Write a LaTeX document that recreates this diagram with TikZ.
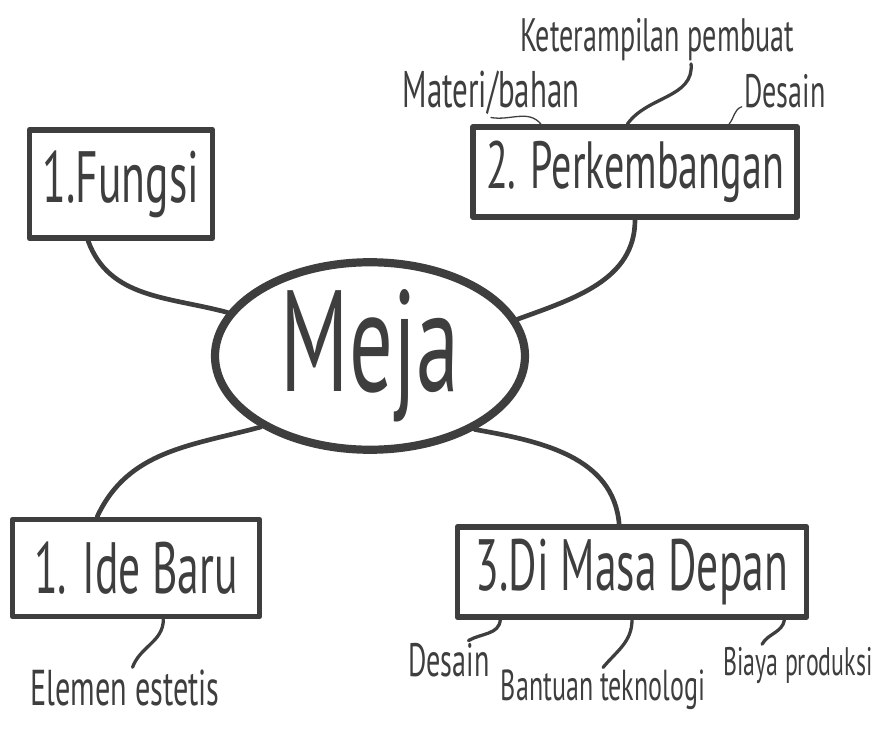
\documentclass[tikz,border=0pt]{standalone}
\usepackage{fontspec}
\usepackage{tikz}
\usetikzlibrary{arrows.meta,positioning,calc,shapes.geometric}
\newfontfamily\handfont[FakeStretch=0.6]{PT Sans}
\definecolor{ink}{HTML}{3E3E3E}

\begin{document}
\begin{tikzpicture}[
    x=0.03cm, y=-0.03cm,
    hub/.style={ellipse, draw=ink, line width=7pt, minimum width=9.3cm, minimum height=4.86cm, inner sep=0pt, text=ink, font=\handfont\fontsize{123}{130}\selectfont},
    topic/.style={draw=ink, line width=5pt, line join=round, inner sep=0pt, text=ink, font=\handfont\fontsize{62}{66}\selectfont},
    leaf/.style={inner sep=2pt, text=ink, font=\handfont\fontsize{40}{44}\selectfont},
    link/.style={draw=ink, line width=4pt, line cap=round},
    stem/.style={draw=ink, line width=2.8pt, line cap=round},
    twig/.style={draw=ink, line width=1.1pt, line cap=round}
]
\useasboundingbox (0,0) rectangle (883,731);

% 中心
\node[hub] (meja) at (370,356) {Meja};

% 枝
\node[topic, minimum width=5.49cm, minimum height=3.24cm] (fungsi) at (121,184) {1.Fungsi};
\node[topic, minimum width=9.72cm, minimum height=2.7cm, font=\handfont\fontsize{57}{60}\selectfont] (perk) at (635,172) {2. Perkembangan};
\node[topic, minimum width=7.41cm, minimum height=2.91cm] (ide) at (136,568) {1. Ide Baru};
\node[topic, minimum width=10.47cm, minimum height=2.7cm] (masa) at (632,572) {3.Di Masa Depan};

% 葉
\node[leaf, font=\handfont\fontsize{44}{48}\selectfont] (materi) at (491,93) {Materi/bahan};
\node[leaf] (keter) at (657,40) {Keterampilan pembuat};
\node[leaf] (desainA) at (785,91) {Desain};
\node[leaf, font=\handfont\fontsize{43}{46}\selectfont] (elemen) at (125,688) {Elemen estetis};
\node[leaf] (desainB) at (449,660) {Desain};
\node[leaf, font=\handfont\fontsize{37}{40}\selectfont] (bantuan) at (603,690) {Bantuan teknologi};
\node[leaf, font=\handfont\fontsize{34}{38}\selectfont] (biaya) at (798,665) {Biaya produksi};

% 中心からの線
\draw[link] (fungsi.-120) to[out=-70, in=165] (meja.163);
\draw[link] (perk.south) to[out=-90, in=20] (meja.14);
\draw[link] (meja.-147) to[out=195, in=65] (ide.127);
\draw[link] (meja.-35) to[out=-10, in=95] (masa.105);

% 細い線
\draw[twig] (materi.south) to[out=-10, in=130] (perk.153);
\draw[stem] (keter.-35) to[out=-85, in=55] (perk.99);
\draw[twig] (desainA.200) to[out=200, in=50] (perk.27);
\draw[stem] (ide.-62) to[out=-90, in=70] (elemen.70);
\draw[stem] (masa.-160) to[out=-95, in=30] (desainB.45);
\draw[stem] (masa.south) to[out=-90, in=50] (bantuan.north);
\draw[stem] ($(masa.south east)+(-25,0)$) to[out=-100, in=60] (biaya.150);

\end{tikzpicture}
\end{document}
